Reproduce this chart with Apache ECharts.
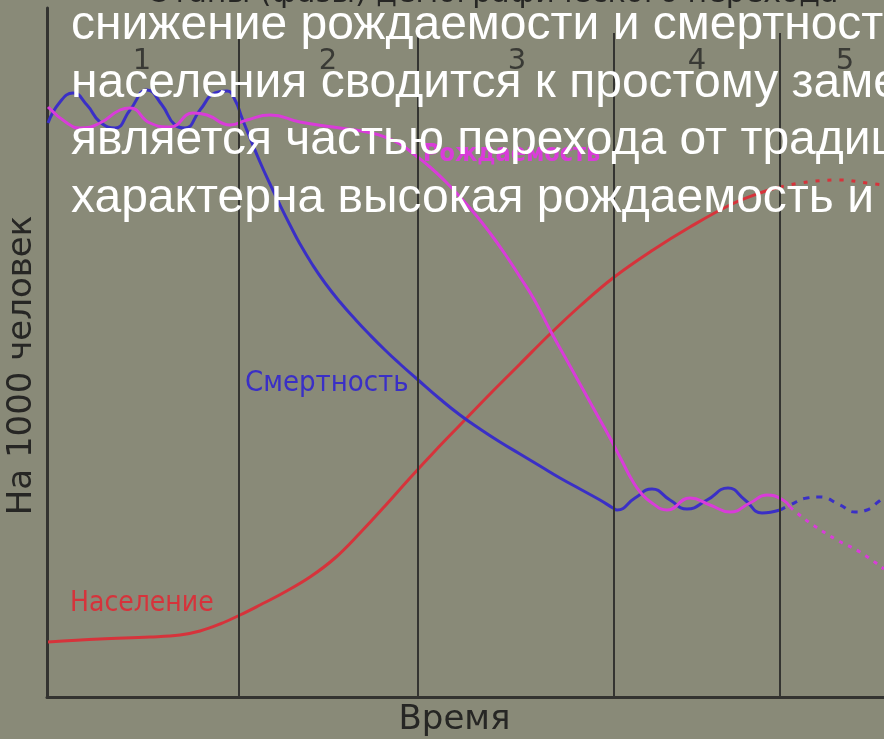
<!DOCTYPE html>
<html>
<head>
<meta charset="utf-8">
<script src="https://cdn.jsdelivr.net/npm/echarts@6/dist/echarts.min.js"></script>
<style>html,body{margin:0;padding:0;background:#898a78;}#c{width:884px;height:739px;}</style>
</head>
<body>
<div id="c"></div>
<script>
// ---- data (time units / per 1000 people) ----
const phaseBounds = [19.2, 37.1, 56.7, 73.3];
const phaseLabels = ['1', '2', '3', '4', '5'];
const phaseCenters = [9.5, 28.1, 47.0, 65.0, 79.8];
const phaseLabelY = 63.6;
const phaseLineTop = 66.4;

const deathSolid = [
  [0.1,57.4],[1.3,59.5],[2.6,60.4],[4.0,59.2],[5.3,57.5],[6.8,56.9],[8.3,58.7],[10.0,60.7],
  [11.5,59.2],[12.8,57.2],[13.8,56.9],[15.3,58.7],[16.8,60.4],[18.0,60.6],[18.8,59.7],[19.5,57.9],
  [20.3,55.9],[21.3,53.5],[22.3,51.3],[23.3,49.2],[24.3,47.2],[25.3,45.3],[26.5,43.3],[27.8,41.4],
  [29.3,39.5],[30.8,37.8],[32.3,36.2],[33.8,34.7],[35.3,33.3],[37.0,31.8],[39.3,29.8],[41.3,28.2],
  [43.3,26.8],[45.3,25.5],[47.3,24.3],[49.3,23.1],[51.3,21.9],[53.3,20.8],[55.3,19.7],[56.6,18.9],
  [57.0,18.7],[58.8,19.9],[60.5,20.8],[62.3,19.7],[64.0,18.8],[66.0,19.7],[68.1,20.9],[69.8,19.7],
  [71.5,18.4],[73.3,18.7]
];
const deathDotted = [
  [73.3,18.7],[74.3,19.2],[76.0,19.9],[77.3,20.0],[79.3,19.2],[80.8,18.5],[82.0,18.7],[83.1,19.5],[83.7,20.0]
];
const birthSolid = [
  [0.1,59.0],[2.0,57.4],[3.3,56.9],[5.3,57.4],[7.3,58.7],[8.3,58.9],[10.3,57.4],[12.3,57.0],
  [14.6,58.4],[16.0,58.2],[18.3,57.2],[20.0,57.7],[22.3,58.2],[25.3,57.5],[28.6,57.0],[32.0,56.5],
  [33.8,56.0],[35.3,55.3],[36.8,54.2],[38.3,53.0],[39.8,51.6],[41.3,50.0],[42.8,48.3],[44.3,46.4],
  [45.8,44.3],[47.3,42.0],[48.8,39.6],[50.3,36.7],[51.8,34.0],[53.3,31.3],[54.8,28.6],[56.3,25.9],
  [57.5,23.6],[58.5,21.7],[59.4,20.4],[60.5,19.4],[62.0,18.7],[64.3,19.9],[66.3,19.2],[68.3,18.5],
  [70.3,19.4],[72.0,20.2],[73.6,19.7],[74.3,19.0]
];
const birthDotted = [
  [74.3,19.0],[75.0,18.4],[76.6,17.2],[79.0,15.7],[81.3,14.5],[83.7,12.8]
];
const popSolid = [
  [0.1,5.5],[5.3,5.8],[10.3,6.0],[13.3,6.2],[15.3,6.6],[17.3,7.3],[19.3,8.2],[21.3,9.2],
  [23.6,10.4],[26.3,12.0],[28.8,13.9],[31.3,16.4],[33.8,19.1],[36.3,21.9],[38.8,24.6],[41.3,27.2],
  [44.3,30.3],[47.3,33.3],[50.3,36.3],[53.3,39.1],[56.6,41.9],[60.6,44.7],[64.3,47.0],[68.3,49.2],
  [71.3,50.4],[73.3,51.0]
];
const popDotted = [
  [73.3,51.0],[76.0,51.5],[79.3,51.7],[82.0,51.4],[83.7,51.2]
];

const chartTitle = 'Этапы (фазы) демографического перехода';
const xName = 'Время';
const yName = 'На 1000 человек';
const overlayLines = [
  'снижение рождаемости и смертности',
  'населения сводится к простому замещению',
  'является частью перехода от традиционного',
  'характерна высокая рождаемость и смертность'
];

const BLUE = '#3a2fc6', MAG = '#d93cd9', RED = '#d6333b', INK = '#262624';
const FONT = '"DejaVu Sans", sans-serif';
const COND = '"DejaVu Sans Condensed", "DejaVu Sans", sans-serif';

const chart = echarts.init(document.getElementById('c'), null, {renderer: 'canvas'});

const overlay = overlayLines.map((t, i) => ({
  type: 'text', left: 71, top: 2 + i * 57.5, z: 100, silent: true,
  style: { text: t, fill: '#ffffff', font: '48px "Liberation Sans", Arial, sans-serif' }
}));

chart.setOption({
  backgroundColor: '#898a78',
  animation: false,
  grid: { left: 47, right: 0, top: 8, bottom: 42, containLabel: false, outerBoundsMode: 'none' },
  xAxis: {
    type: 'value', min: 0, max: 83.7,
    axisLine: { show: true, onZero: false, lineStyle: { color: '#333330', width: 3 } },
    axisTick: { show: false }, axisLabel: { show: false }, splitLine: { show: false },
    name: xName, nameLocation: 'middle', nameGap: 6,
    nameTextStyle: { fontFamily: FONT, fontSize: 34, color: INK, padding: [0, 22, 0, 0] }
  },
  yAxis: {
    type: 'value', min: 0, max: 68.9,
    axisLine: { show: true, onZero: false, lineStyle: { color: '#333330', width: 3 } },
    axisTick: { show: false }, axisLabel: { show: false }, splitLine: { show: false },
    name: yName, nameLocation: 'middle', nameGap: 8, nameRotate: 90,
    nameTextStyle: { fontFamily: FONT, fontSize: 34, color: INK, padding: [0, 26, 0, 0] }
  },
  graphic: [
    { type: 'text', left: 150, top: -21, z: 50, silent: true,
      style: { text: chartTitle, fill: INK, font: '30px ' + FONT } },
    { type: 'text', left: 245, top: 369, z: 50, silent: true,
      style: { text: 'Смертность', fill: BLUE, font: '29px ' + COND } },
    { type: 'text', left: 70, top: 590, z: 50, silent: true,
      style: { text: 'Население', fill: RED, font: '28px ' + COND } },
    { type: 'text', left: 423, top: 142, z: 50, silent: true,
      style: { text: 'Рождаемость', fill: MAG, font: 'bold 25px ' + COND } }
  ].concat(overlay),
  series: [
    { type: 'line', name: 'Фазы', data: [], silent: true,
      markLine: {
        symbol: 'none', silent: true, label: { show: false },
        lineStyle: { color: '#343431', width: 2, type: 'solid' },
        data: phaseBounds.map(x => [{ coord: [x, 0] }, { coord: [x, phaseLineTop] }])
      } },
    { type: 'scatter', name: 'Номера', symbolSize: 0, silent: true,
      data: phaseCenters.map((x, i) => ({ value: [x, phaseLabelY], name: phaseLabels[i] })),
      label: { show: true, position: 'inside', formatter: p => p.name,
        fontFamily: FONT, fontSize: 29, color: INK } },
    { type: 'line', name: 'Население', data: popSolid, smooth: 0.4, showSymbol: false,
      lineStyle: { color: RED, width: 3 } },
    { type: 'line', name: 'Население (прогноз)', data: popDotted, smooth: 0.4, showSymbol: false,
      lineStyle: { color: RED, width: 3, type: [4, 8] } },
    { type: 'line', name: 'Смертность', data: deathSolid, smooth: 0.5, showSymbol: false,
      lineStyle: { color: BLUE, width: 3 } },
    { type: 'line', name: 'Смертность (прогноз)', data: deathDotted, smooth: 0.5, showSymbol: false,
      lineStyle: { color: BLUE, width: 3, type: [6, 7] } },
    { type: 'line', name: 'Рождаемость', data: birthSolid, smooth: 0.5, showSymbol: false,
      lineStyle: { color: MAG, width: 3 } },
    { type: 'line', name: 'Рождаемость (прогноз)', data: birthDotted, smooth: 0.4, showSymbol: false,
      lineStyle: { color: MAG, width: 3, type: [4, 6] } }
  ]
});
</script>
</body>
</html>
